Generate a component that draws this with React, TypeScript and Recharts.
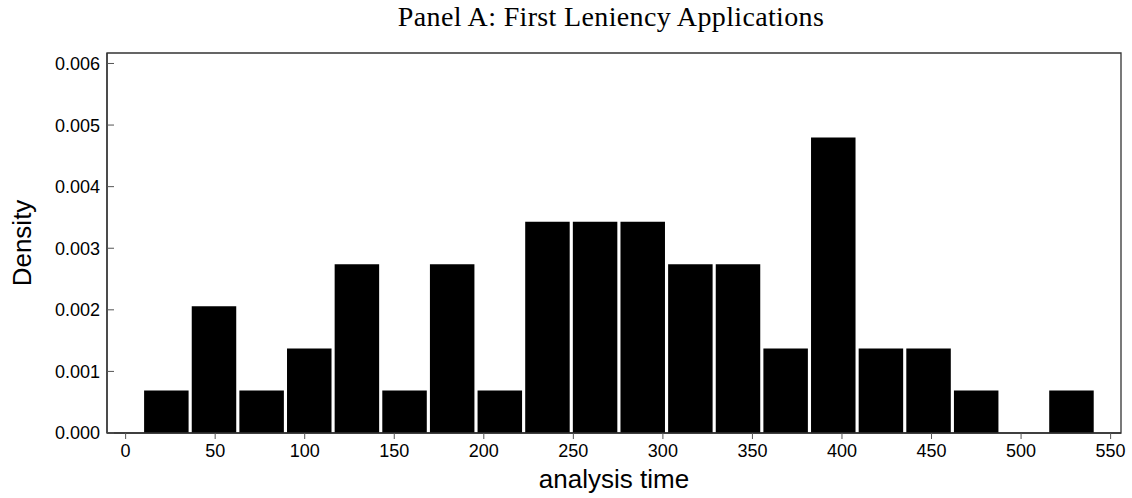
import { Bar, BarChart, ReferenceArea, XAxis, YAxis } from "recharts";

// bin centres (analysis time) and histogram density
const binCenters = [
  22.5, 49.1, 75.7, 102.3, 128.9, 155.5, 182.1, 208.7, 235.3, 261.9,
  288.5, 315.1, 341.7, 368.3, 394.9, 421.5, 448.1, 474.7, 501.3, 527.9,
];
const densities = [
  0.00069, 0.00206, 0.00069, 0.00137, 0.00274, 0.00069, 0.00274, 0.00069, 0.00343, 0.00343,
  0.00343, 0.00274, 0.00274, 0.00137, 0.0048, 0.00137, 0.00137, 0.00069, 0, 0.00069,
];
const xTicks = [0, 50, 100, 150, 200, 250, 300, 350, 400, 450, 500, 550];
const yTicks = [0, 0.001, 0.002, 0.003, 0.004, 0.005, 0.006];

const X_DOMAIN: [number, number] = [-10.4, 555.8];
const Y_DOMAIN: [number, number] = [0, 0.00617];

const data = binCenters.map((x, i) => ({ x, density: densities[i] }));

const sans = "'Liberation Sans', Arial, sans-serif";
const serif = "'Liberation Serif', 'Times New Roman', serif";

function YTick(props: any) {
  const { x, y, payload } = props;
  return (
    <g>
      <line x1={x} x2={x + 7} y1={y} y2={y} stroke="#555" strokeWidth={1} />
      <text
        x={x - 7}
        y={y}
        dy="0.36em"
        textAnchor="end"
        fontSize={18}
        fontFamily={sans}
        fill="#000"
      >
        {Number(payload.value).toFixed(3)}
      </text>
    </g>
  );
}

export default function App() {
  return (
    <div
      style={{
        position: "absolute",
        top: 0,
        left: 0,
        width: 1132,
        height: 498,
        background: "#fff",
      }}
    >
      <BarChart
        width={1132}
        height={498}
        data={data}
        margin={{ top: 53, right: 11, bottom: 0, left: 0 }}
      >
        <XAxis
          dataKey="x"
          type="number"
          domain={X_DOMAIN}
          allowDataOverflow
          ticks={xTicks}
          height={65}
          tickSize={6}
          tickMargin={5}
          tick={{ fontSize: 18, fontFamily: sans, fill: "#000" }}
          tickLine={{ stroke: "#555" }}
          axisLine={{ stroke: "#333", strokeWidth: 1.3 }}
        />
        <YAxis
          type="number"
          domain={Y_DOMAIN}
          allowDataOverflow
          ticks={yTicks}
          width={107}
          tickSize={0}
          tickMargin={0}
          tickLine={false}
          tick={<YTick />}
          axisLine={{ stroke: "#333", strokeWidth: 1.3 }}
        />
        <Bar dataKey="density" fill="#000" barSize={44.5} isAnimationActive={false} />
        <ReferenceArea
          x1={X_DOMAIN[0]}
          x2={X_DOMAIN[1]}
          y1={Y_DOMAIN[0]}
          y2={Y_DOMAIN[1]}
          fill="none"
          stroke="#333"
          strokeWidth={1.3}
        />
        <text
          x={611}
          y={26}
          textAnchor="middle"
          fontSize={28}
          fontFamily={serif}
          letterSpacing={0.35}
          fill="#000"
        >
          Panel A: First Leniency Applications
        </text>
        <text
          x={614}
          y={488}
          textAnchor="middle"
          fontSize={26}
          fontFamily={sans}
          fill="#000"
        >
          analysis time
        </text>
        <text
          x={31}
          y={243}
          transform="rotate(-90 31 243)"
          textAnchor="middle"
          fontSize={26}
          fontFamily={sans}
          fill="#000"
        >
          Density
        </text>
      </BarChart>
    </div>
  );
}
